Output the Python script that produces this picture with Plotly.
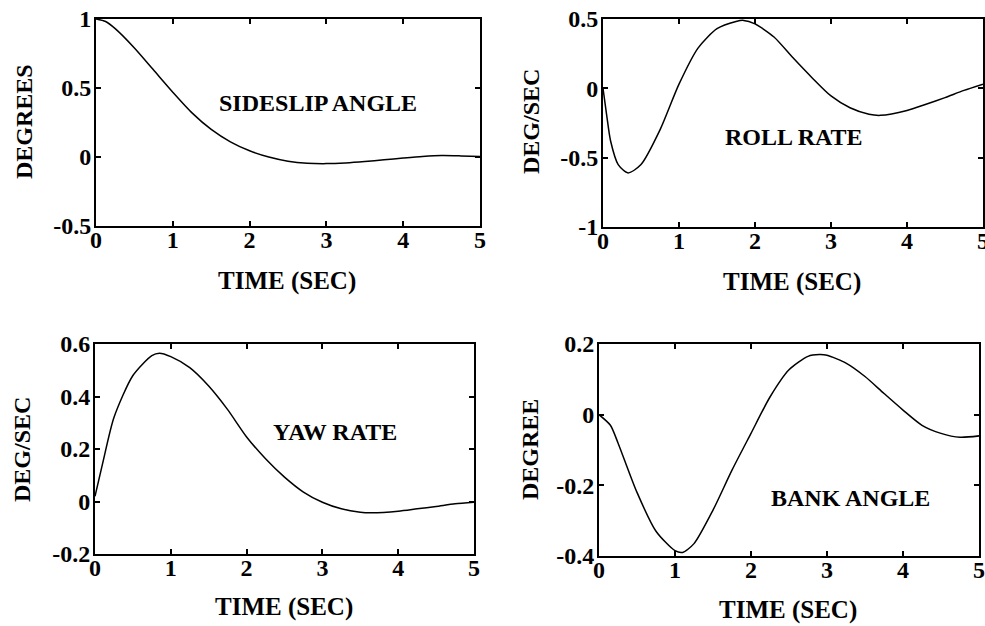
import plotly.graph_objects as go

# Time samples (s)
t = [0, 0.125, 0.25, 0.5, 0.75, 1.0, 1.25, 1.5, 1.75, 2.0, 2.25, 2.5, 2.75,
     3.0, 3.25, 3.5, 3.75, 4.0, 4.25, 4.5, 4.75, 5.0]

sideslip = [1.0, 0.982, 0.93, 0.79, 0.63, 0.47, 0.32, 0.20, 0.11, 0.045, 0.0, -0.03, -0.045,
            -0.048, -0.043, -0.033, -0.02, -0.008, 0.003, 0.01, 0.008, 0.004]

t_roll = [0, 0.05, 0.1, 0.2, 0.33, 0.5, 0.75, 1.0, 1.25, 1.5, 1.75, 1.85, 2.0, 2.25,
          2.5, 2.75, 3.0, 3.25, 3.5, 3.65, 4.0, 4.25, 4.5, 4.75, 5.0]
roll = [0.0, -0.2, -0.38, -0.55, -0.61, -0.55, -0.3, 0.03, 0.29, 0.43, 0.482, 0.49, 0.465, 0.37,
        0.22, 0.077, -0.055, -0.14, -0.187, -0.195, -0.16, -0.115, -0.067, -0.015, 0.03]

t_yaw = [0, 0.1, 0.25, 0.5, 0.75, 0.85, 1.0, 1.25, 1.5, 1.75, 2.0, 2.25, 2.5, 2.75,
         3.0, 3.25, 3.5, 3.65, 4.0, 4.25, 4.5, 4.75, 5.0]
yaw = [0.02, 0.144, 0.32, 0.48, 0.556, 0.565, 0.552, 0.51, 0.44, 0.35, 0.246, 0.163, 0.093, 0.036,
       -0.003, -0.028, -0.041, -0.043, -0.037, -0.028, -0.019, -0.009, -0.003]

t_bank = [0, 0.15, 0.25, 0.5, 0.75, 1.0, 1.1, 1.25, 1.5, 1.75, 2.0, 2.25, 2.5, 2.75, 2.9,
          3.0, 3.25, 3.5, 3.75, 4.0, 4.25, 4.5, 4.75, 5.0]
bank = [0.0, -0.03, -0.08, -0.22, -0.33, -0.385, -0.39, -0.365, -0.27, -0.157, -0.053, 0.05,
        0.127, 0.165, 0.17, 0.168, 0.146, 0.108, 0.06, 0.013, -0.03, -0.053, -0.064, -0.06]

x_ticks = [0, 1, 2, 3, 4, 5]
x_ticktext = ["0", "1", "2", "3", "4", "5"]
y_ticks_sideslip = [-0.5, 0, 0.5, 1]
y_text_sideslip = ["-0.5", "0", "0.5", "1"]
y_ticks_roll = [-1, -0.5, 0, 0.5]
y_text_roll = ["-1", "-0.5", "0", "0.5"]
y_ticks_yaw = [-0.2, 0, 0.2, 0.4, 0.6]
y_text_yaw = ["-0.2", "0", "0.2", "0.4", "0.6"]
y_ticks_bank = [-0.4, -0.2, 0, 0.2]
y_text_bank = ["-0.4", "-0.2", "0", "0.2"]

FONT = "Liberation Serif"

panels = [
    # (x, y, xdomain, ydomain, yrange, yticks, ytext, label, label_xy, ytitle, ytitle_xy, xtitle_xy)
    (t, sideslip, [96/985, 480/985], [1-226/626, 1-19/626], [-0.5, 1],
     y_ticks_sideslip, y_text_sideslip,
     "SIDESLIP ANGLE", (2.89, 0.39), "DEGREES", (24, 122), (287, 281)),
    (t_roll, roll, [603/985, 983/985], [1-227/626, 1-19/626], [-1, 0.5],
     y_ticks_roll, y_text_roll,
     "ROLL RATE", (2.51, -0.354), "DEG/SEC", (531, 122), (792, 282)),
    (t_yaw, yaw, [95/985, 474/985], [1-554/626, 1-344/626], [-0.2, 0.6],
     y_ticks_yaw, y_text_yaw,
     "YAW RATE", (3.17, 0.265), "DEG/SEC", (22, 450), (284, 607)),
    (t_bank, bank, [599/985, 979/985], [1-556/626, 1-344/626], [-0.4, 0.2],
     y_ticks_bank, y_text_bank,
     "BANK ANGLE", (3.31, -0.235), "DEGREE", (530, 450), (788, 610)),
]

fig = go.Figure()
annotations = []
W, H = 985, 626
for i, (xs, ys, xd, yd, yr, ytk, ytt, lab, lxy, ytit, ytxy, xtxy) in enumerate(panels):
    n = "" if i == 0 else str(i + 1)
    fig.add_trace(go.Scatter(x=xs, y=ys, mode="lines",
                             line=dict(color="black", width=1.5, shape="spline", smoothing=0.7),
                             xaxis="x" + n, yaxis="y" + n, showlegend=False))
    axcommon = dict(showline=True, linecolor="black", linewidth=2, mirror="ticks",
                    ticks="inside", ticklen=5, tickwidth=1.5, tickcolor="black",
                    showgrid=False, zeroline=False, automargin=False,
                    ticklabeloverflow="allow",
                    tickfont=dict(family=FONT, size=24, color="black", weight="bold"))
    fig.layout["xaxis" + n] = dict(domain=xd, range=[0, 5], tickvals=x_ticks,
                                   ticktext=x_ticktext, ticklabelstandoff=-9,
                                   anchor="y" + n, **axcommon)
    fig.layout["yaxis" + n] = dict(domain=yd, range=yr, tickvals=ytk, ticktext=ytt,
                                   ticklabelstandoff=-2,
                                   anchor="x" + n, **axcommon)
    annotations.append(dict(x=lxy[0], y=lxy[1], xref="x" + n, yref="y" + n, text=lab,
                            showarrow=False, xanchor="center", yanchor="middle",
                            font=dict(family=FONT, size=24, color="black", weight="bold")))
    annotations.append(dict(x=ytxy[0] / W, y=1 - ytxy[1] / H, xref="paper", yref="paper",
                            text=ytit, textangle=-90, showarrow=False,
                            xanchor="center", yanchor="middle",
                            font=dict(family=FONT, size=24, color="black", weight="bold")))
    annotations.append(dict(x=xtxy[0] / W, y=1 - xtxy[1] / H, xref="paper", yref="paper",
                            text="TIME (SEC)", showarrow=False,
                            xanchor="center", yanchor="middle",
                            font=dict(family=FONT, size=25, color="black", weight="bold")))

fig.update_layout(width=W, height=H,
                  margin=dict(l=0, r=0, t=0, b=0, pad=0, autoexpand=False),
                  paper_bgcolor="white", plot_bgcolor="white",
                  annotations=annotations)
fig.write_html("out.html")
